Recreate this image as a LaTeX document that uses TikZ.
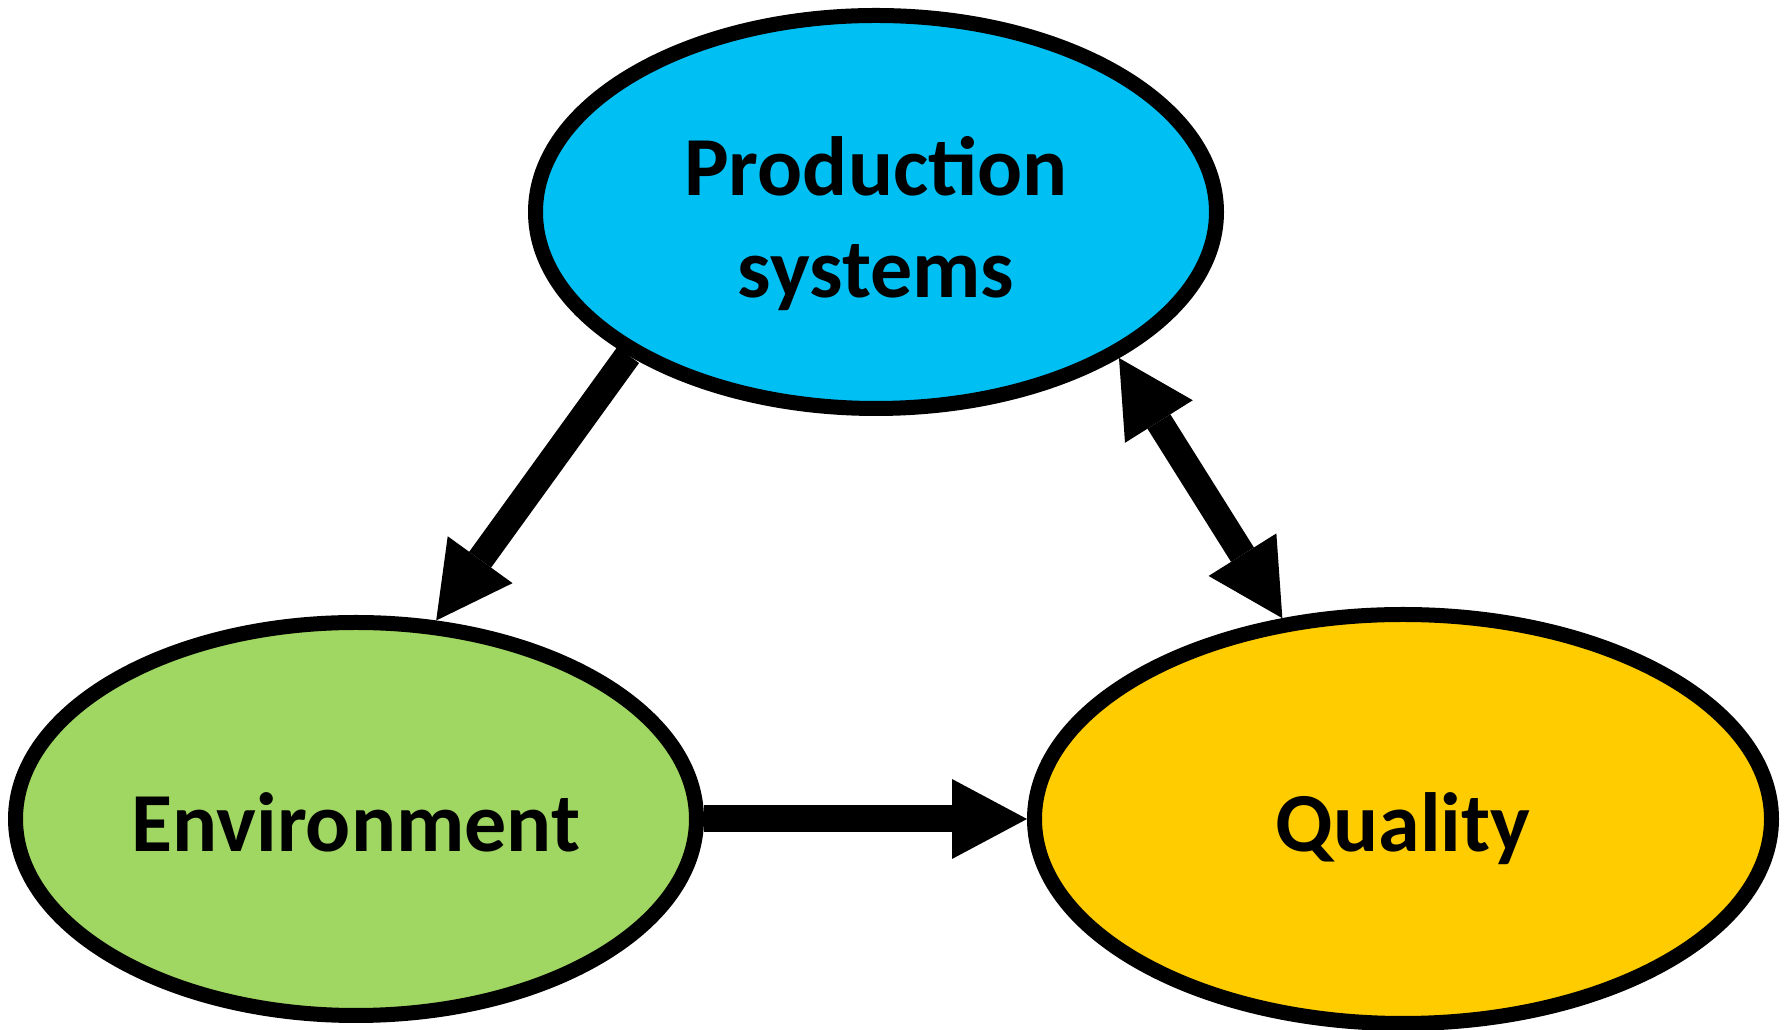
\documentclass[tikz,border=0pt]{standalone}
\usepackage{fontspec}
\setmainfont{Carlito}
\usetikzlibrary{shapes.geometric,arrows.meta}

\definecolor{prodblue}{RGB}{0,191,243}
\definecolor{envgreen}{RGB}{160,214,98}
\definecolor{qualgold}{RGB}{255,204,0}

\tikzset{
  blob/.style={ellipse, draw=black, line width=15pt, inner sep=0pt,
    align=center, text=black,
    font=\bfseries\fontsize{84}{102}\selectfont},
  oneline/.style={text height=70pt, text depth=4pt},
  blobtext/.style={inner sep=0pt, align=center, text=black,
    font=\bfseries\fontsize{84}{102}\selectfont},
  bigtip/.tip={Triangle[length=75pt,width=80pt,line width=0pt]},
  conn/.style={line width=27pt, draw=black, -bigtip},
  conn2/.style={line width=27pt, draw=black, bigtip-bigtip}
}

\begin{document}
\begin{tikzpicture}[x=1pt,y=1pt]
  \useasboundingbox (0,0) rectangle (1789,1030);

  % the three factors
  \node[blob, fill=prodblue, minimum width=681pt, minimum height=393pt]
    (ps) at (876,818) {};
  \node[blobtext] (pstext) at ([yshift=-12pt]ps.center) {Production\\systems};
  \node[blob, oneline, fill=envgreen, minimum width=681pt, minimum height=393pt]
    (env) at (356,211) {Environment};
  \node[blob, oneline, fill=qualgold, minimum width=737pt, minimum height=409pt]
    (q) at (1403,211) {Quality};

  % relations between them
  \draw[conn] (ps.210.5) -- (env.68.6);
  \draw[conn2] (ps.329.4) -- (q.121.3);
  \draw[conn] (env.east) -- (q.west);
\end{tikzpicture}
\end{document}
